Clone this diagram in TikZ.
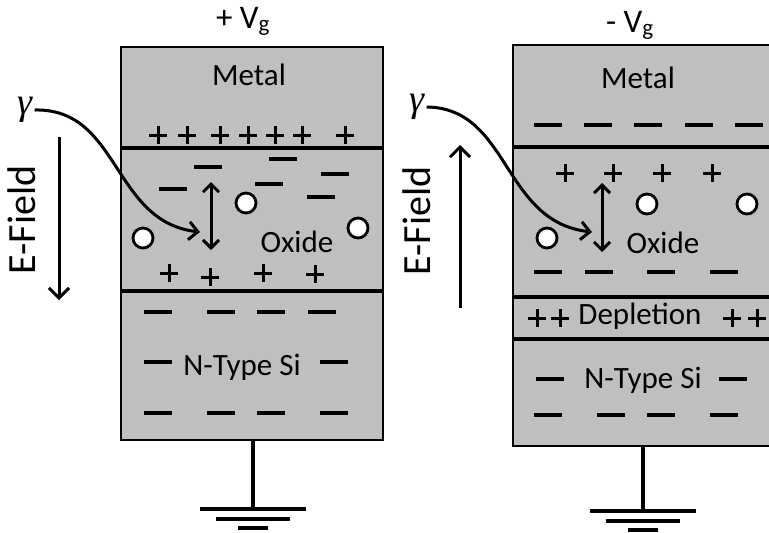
\documentclass[tikz,border=0pt]{standalone}
\usepackage{fontspec}
\setmainfont{Carlito}
\newfontfamily\greekfont{Liberation Serif}
\usetikzlibrary{arrows.meta}
\definecolor{oxgray}{RGB}{191,191,191}

\begin{document}
\begin{tikzpicture}[
  x=1pt, y=-1pt,
  layer/.style={draw,line width=1.5pt,fill=oxgray},
  iface/.style={line width=4pt},
  lbl/.style={font=\fontsize{31}{37}\selectfont,inner sep=0pt,anchor=base},
  vlbl/.style={font=\fontsize{33}{39}\selectfont,inner sep=0pt,anchor=base},
  fieldlbl/.style={font=\fontsize{40}{48}\selectfont,rotate=90,inner sep=0pt},
  gam/.style={font=\fontsize{38}{42}\selectfont\greekfont\itshape,inner sep=2pt},
  trap/.style={circle,draw,fill=white,line width=2.8pt,minimum size=20pt,inner sep=0pt},
  field/.style={line width=3pt,-{Straight Barb[length=10pt,width=20pt]}},
  photon/.style={line width=3pt,-{Straight Barb[length=9pt,width=18pt]}},
  hop/.style={line width=3pt,{Straight Barb[length=8pt,width=16pt]}-{Straight Barb[length=8pt,width=16pt]}},
  wire/.style={line width=3.5pt},
  pics/pos/.style={code={\draw[line width=3pt] (-9,0) -- (9,0) (0,-9) -- (0,9);}},
  pics/neg/.style={code={\draw[line width=3.8pt] (-14,0) -- (14,0);}},
  pics/earth/.style={code={\draw[line width=4pt] (-53,0) -- (53,0) (-37,10) -- (37,10) (-15,19) -- (15,19);}}
]
\useasboundingbox (0,0) rectangle (769,533);
\clip (0,0) rectangle (769,533);

% positive gate
\draw[layer] (121,47) rectangle (383,440);
\draw[iface] (121,148) -- (383,148);
\draw[iface] (121,291) -- (383,291);
\node[vlbl] (vgL) at (243,28) {+ V\textsubscript{g}};
\node[lbl] (metalL) at (249,85) {Metal};
\node[lbl] (oxideL) at (297,252) {Oxide};
\node[lbl] (siL) at (242,375) {N-Type Si};
\foreach \x in {158,187,220,248,275,302,345}
  \pic at (\x,135) {pos};
\foreach \x/\y in {208/167,283/159,335/174,173/189,269/184,321/197}
  \pic at (\x,\y) {neg};
\foreach \x/\y in {169/273,210/277,263/273,315/274}
  \pic at (\x,\y) {pos};
\foreach \x/\y in {158/312,221/312,271/312,322/312,158/362,334/362,158/413,221/413,271/413,334/413}
  \pic at (\x,\y) {neg};
\foreach \x/\y [count=\i] in {143/238,246/203,358/228}
  \node[trap] (trapL\i) at (\x,\y) {};

\node[gam] (gamL) at (25,110) {γ};
\coordinate (hitL) at (200,232);
\draw[photon] (gamL.east) .. controls (120,108) and (112,222) .. (hitL);
\coordinate (hopLt) at (211,182);
\coordinate (hopLb) at (211,250);
\draw[hop] (hopLt) -- (hopLb);
\node[fieldlbl] (efL) at (22,220) {E-Field};
\coordinate (fieldLt) at (59,137);
\coordinate (fieldLb) at (59,300);
\draw[field] (fieldLt) -- (fieldLb);

\coordinate (baseL) at (253,440);
\coordinate (gndL) at (253,509);
\draw[wire] (baseL) -- (gndL);
\pic at (gndL) {earth};

% negative gate
\draw[layer] (513,45) rectangle (790,446);
\draw[iface] (513,147) -- (790,147);
\draw[iface] (513,297) -- (790,297);
\draw[iface] (513,339) -- (790,339);
\node[vlbl] (vgR) at (630,32) {- V\textsubscript{g}};
\node[lbl] (metalR) at (638,88) {Metal};
\node[lbl] (oxideR) at (663,253) {Oxide};
\node[lbl] (deplR) at (640,324) {Depletion};
\node[lbl] (siR) at (643,388) {N-Type Si};
\foreach \x in {548,598,648,699,749}
  \pic at (\x,125) {neg};
\foreach \x in {565,613,662,712}
  \pic at (\x,173) {pos};
\foreach \x in {548,599,661,724}
  \pic at (\x,272) {neg};
\foreach \x in {537,560,732,757}
  \pic at (\x,318) {pos};
\foreach \x/\y in {550/379,733/379,548/415,611/415,661/415,724/415}
  \pic at (\x,\y) {neg};
\foreach \x/\y [count=\i] in {547/238,647/204,747/204}
  \node[trap] (trapR\i) at (\x,\y) {};

\node[gam] (gamR) at (417,107) {γ};
\coordinate (hitR) at (592,232);
\draw[photon] (gamR.east) .. controls (510,108) and (502,222) .. (hitR);
\coordinate (hopRt) at (602,183);
\coordinate (hopRb) at (602,252);
\draw[hop] (hopRt) -- (hopRb);
\node[fieldlbl] (efR) at (417,221) {E-Field};
\coordinate (fieldRb) at (460,308);
\coordinate (fieldRt) at (460,145);
\draw[field] (fieldRb) -- (fieldRt);

\coordinate (baseR) at (643,446);
\coordinate (gndR) at (643,511);
\draw[wire] (baseR) -- (gndR);
\pic at (gndR) {earth};
\end{tikzpicture}
\end{document}
